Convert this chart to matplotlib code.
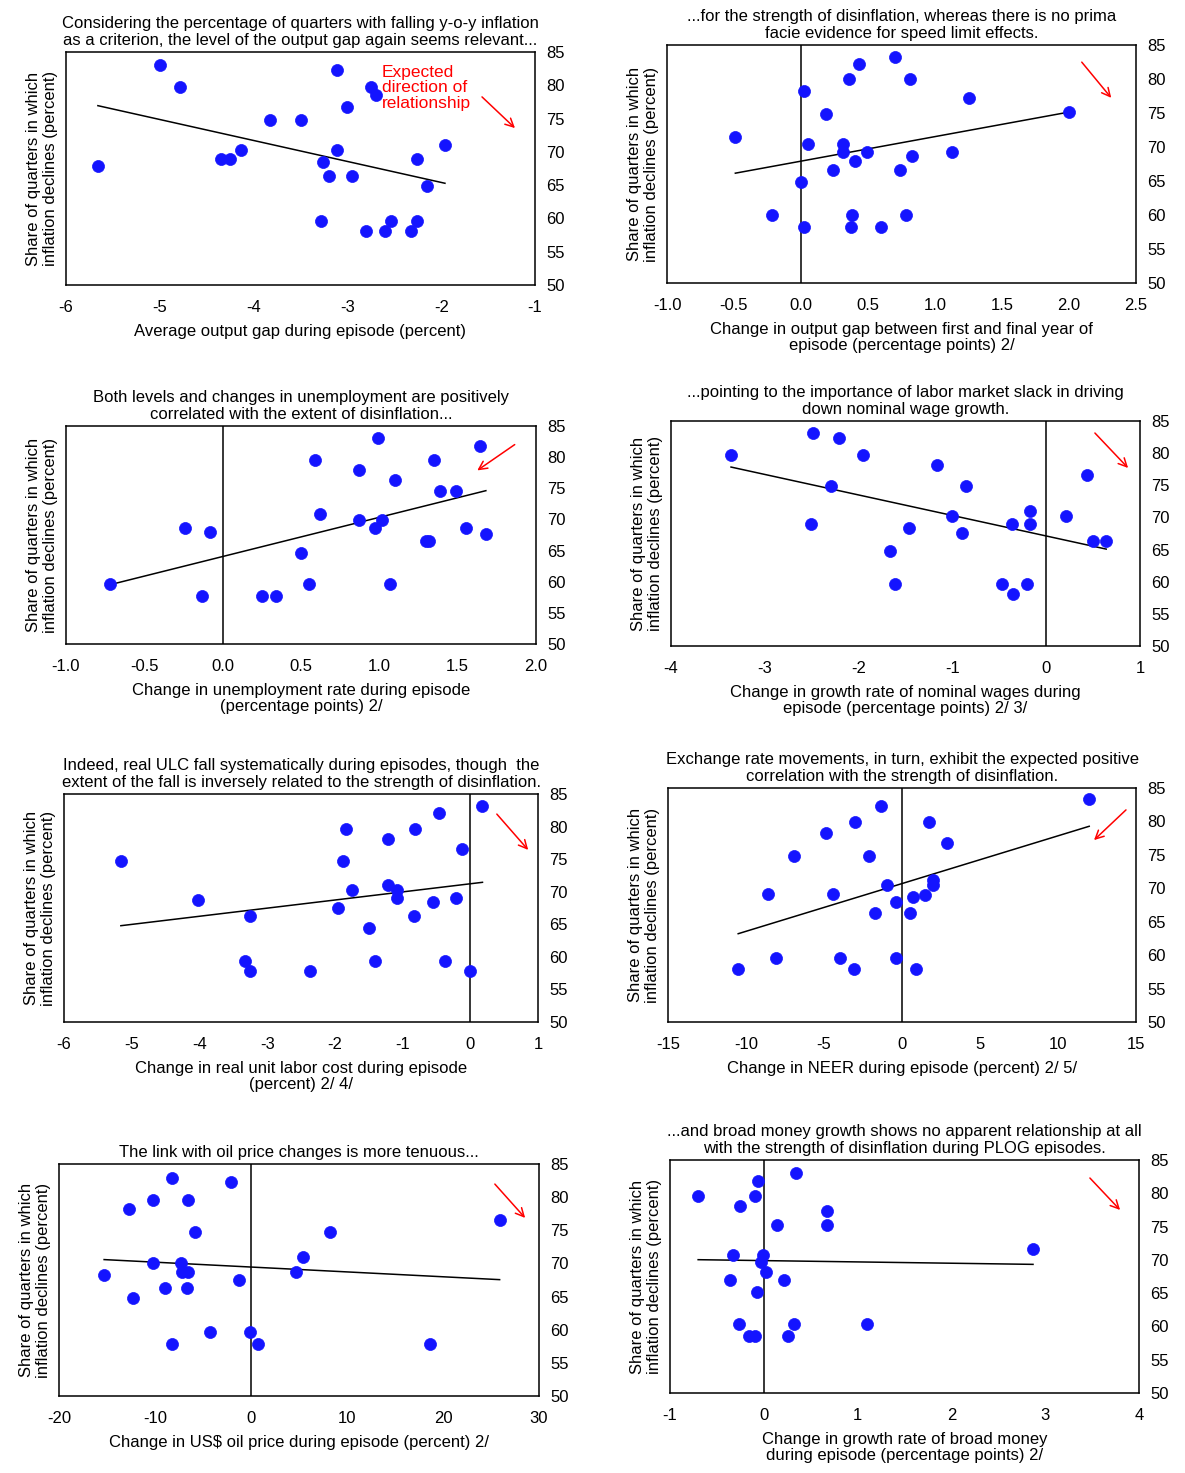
import numpy as np
import matplotlib
matplotlib.use("Agg")
import matplotlib.pyplot as plt

plt.rcParams['font.family'] = ['Liberation Sans', 'DejaVu Sans']

W, H = 1185, 1473

# panel 1: average output gap
gap_x = [-5.0, -4.78, -5.66, -4.35, -4.25, -4.13, -3.83, -3.49, -3.11, -3.11, -3.0, -3.26, -3.2, -2.95,
         -3.28, -2.8, -2.75, -2.7, -2.6, -2.54, -2.32, -2.26, -2.26, -2.15, -1.96]
gap_y = [83, 79.7, 67.9, 68.9, 68.9, 70.3, 74.8, 74.8, 82.3, 70.3, 76.8, 68.5, 66.4, 66.4,
         59.6, 58.1, 79.7, 78.5, 58.1, 59.6, 58.1, 59.6, 69.0, 64.9, 71.0]
# panel 2: change in output gap
dgap_x = [-0.49, -0.22, 0.02, 0.05, 0.0, 0.02, 0.19, 0.24, 0.31, 0.31, 0.36, 0.38, 0.37, 0.4, 0.43,
          0.49, 0.6, 0.7, 0.74, 0.78, 0.81, 0.83, 1.13, 1.25, 2.0]
dgap_y = [71.4, 60, 78.3, 70.5, 64.9, 58.2, 74.9, 66.6, 70.4, 69.2, 80, 60, 58.2, 68, 82.2,
          69.2, 58.2, 83.2, 66.6, 60, 80, 68.7, 69.2, 77.2, 75.1]
# panel 3: change in unemployment
unemp_x = [-0.72, -0.24, -0.13, -0.08, 0.25, 0.34, 0.5, 0.55, 0.59, 0.62, 0.87, 0.87, 0.97, 0.99,
           1.02, 1.07, 1.1, 1.3, 1.32, 1.35, 1.39, 1.49, 1.55, 1.64, 1.68]
unemp_y = [59.6, 68.6, 57.7, 68.0, 57.7, 57.7, 64.6, 59.6, 79.5, 70.8, 77.9, 69.9, 68.6, 83.1,
           69.9, 59.6, 76.3, 66.6, 66.6, 79.5, 74.5, 74.5, 68.6, 81.8, 67.6]
# panel 4: change in nominal wage growth
wage_x = [-3.36, -2.49, -2.21, -1.95, -2.51, -2.29, -1.66, -1.61, -1.46, -1.16, -1.0, -0.86, -0.9,
          -0.47, -0.35, -0.36, -0.21, -0.17, -0.17, 0.21, 0.44, 0.5, 0.64]
wage_y = [79.7, 83.1, 82.3, 79.7, 69.0, 74.9, 64.8, 59.6, 68.4, 78.2, 70.3, 74.9, 67.6,
          59.6, 58.1, 69.0, 59.6, 71.0, 69.0, 70.3, 76.6, 66.3, 66.3]
# panel 5: change in real ULC
ulc_x = [-5.16, -4.02, -3.25, -3.32, -3.25, -2.36, -1.96, -1.83, -1.88, -1.74, -1.5, -1.4, -1.21,
         -1.21, -1.08, -1.08, -0.83, -0.81, -0.55, -0.46, -0.37, -0.21, -0.12, 0.0, 0.18]
ulc_y = [74.7, 68.7, 66.3, 59.4, 57.8, 57.8, 67.5, 79.6, 74.7, 70.3, 64.4, 59.4, 78.1,
         71.0, 70.3, 69.0, 66.3, 79.6, 68.4, 82.1, 59.4, 69.0, 76.5, 57.8, 83.2]
# panel 6: change in NEER
neer_x = [-10.5, -8.6, -8.1, -6.9, -4.9, -4.4, -4.0, -3.1, -3.0, -2.1, -1.7, -1.35, -0.96, -0.38,
          -0.38, 0.5, 0.7, 0.9, 1.5, 2.0, 2.0, 1.7, 2.9, 12.0]
neer_y = [57.9, 69.1, 59.5, 74.8, 78.3, 69.1, 59.5, 57.9, 79.9, 74.8, 66.3, 82.3, 70.5, 59.5,
          68.0, 66.3, 68.7, 57.9, 69.0, 70.5, 71.2, 79.9, 76.8, 83.4]
# panel 7: change in oil price
oil_x = [-15.3, -12.7, -12.3, -10.2, -10.2, -8.96, -8.2, -8.2, -7.3, -7.2, -6.6, -6.6, -6.7, -5.8,
         -4.3, -2.1, -1.25, -0.1, 0.7, 4.7, 5.4, 8.2, 18.6, 25.9]
oil_y = [68.3, 78.2, 64.8, 79.6, 70.1, 66.3, 82.9, 57.9, 70.1, 68.7, 68.7, 79.6, 66.3, 74.7,
         59.7, 82.3, 67.5, 59.7, 57.9, 68.7, 70.9, 74.7, 57.9, 76.6]
# panel 8: change in broad money growth
money_x = [-0.7, -0.25, -0.09, -0.06, 0.34, -0.33, -0.36, -0.26, -0.16, -0.09, -0.07, -0.03, -0.01,
           0.02, 0.14, 0.22, 0.26, 0.32, 0.67, 0.67, 1.1, 2.87]
money_y = [79.6, 78.1, 79.6, 81.8, 83.0, 70.8, 67.0, 60.3, 58.5, 58.5, 65.2, 69.7, 70.8,
           68.2, 75.2, 67.0, 58.5, 60.3, 77.4, 75.2, 60.3, 71.7]

ylab = "Share of quarters in which\ninflation declines (percent)"

panels = [
    dict(x=gap_x, y=gap_y, box=(66, 52, 535, 285), xlim=(-6, -1), xt=[-6, -5, -4, -3, -2, -1], fmt="{:g}",
         title="Considering the percentage of quarters with falling y-o-y inflation\nas a criterion, the level of the output gap again seems relevant...",
         xlabel="Average output gap during episode (percent)", arrow=((480, 95), (517, 130))),
    dict(x=dgap_x, y=dgap_y, box=(667, 45, 1136, 283), xlim=(-1, 2.5), xt=[-1, -0.5, 0, 0.5, 1, 1.5, 2, 2.5], fmt="{:.1f}",
         title="...for the strength of disinflation, whereas there is no prima\nfacie evidence for speed limit effects.",
         xlabel="Change in output gap between first and final year of\nepisode (percentage points) 2/", arrow=((1080, 60), (1113, 100))),
    dict(x=unemp_x, y=unemp_y, box=(66, 426, 536, 644), xlim=(-1, 2), xt=[-1, -0.5, 0, 0.5, 1, 1.5, 2], fmt="{:.1f}",
         title="Both levels and changes in unemployment are positively\ncorrelated with the extent of disinflation...",
         xlabel="Change in unemployment rate during episode\n(percentage points) 2/", arrow=((517, 443), (475, 472))),
    dict(x=wage_x, y=wage_y, box=(671, 421, 1140, 646), xlim=(-4, 1), xt=[-4, -3, -2, -1, 0, 1], fmt="{:g}",
         title="...pointing to the importance of labor market slack in driving\ndown nominal wage growth.",
         xlabel="Change in growth rate of nominal wages during\nepisode (percentage points) 2/ 3/", arrow=((1093, 431), (1130, 470))),
    dict(x=ulc_x, y=ulc_y, box=(64, 794, 538, 1022), xlim=(-6, 1), xt=[-6, -5, -4, -3, -2, -1, 0, 1], fmt="{:g}",
         title="Indeed, real ULC fall systematically during episodes, though  the\nextent of the fall is inversely related to the strength of disinflation.",
         xlabel="Change in real unit labor cost during episode\n(percent) 2/ 4/", arrow=((495, 812), (530, 852))),
    dict(x=neer_x, y=neer_y, box=(668, 788, 1136, 1022), xlim=(-15, 15), xt=[-15, -10, -5, 0, 5, 10, 15], fmt="{:g}",
         title="Exchange rate movements, in turn, exhibit the expected positive\ncorrelation with the strength of disinflation.",
         xlabel="Change in NEER during episode (percent) 2/ 5/", arrow=((1128, 808), (1092, 842))),
    dict(x=oil_x, y=oil_y, box=(59, 1164, 539, 1396), xlim=(-20, 30), xt=[-20, -10, 0, 10, 20, 30], fmt="{:g}",
         title="The link with oil price changes is more tenuous...",
         xlabel="Change in US$ oil price during episode (percent) 2/", arrow=((493, 1182), (527, 1220))),
    dict(x=money_x, y=money_y, box=(670, 1160, 1139, 1393), xlim=(-1, 4), xt=[-1, 0, 1, 2, 3, 4], fmt="{:g}",
         title="...and broad money growth shows no apparent relationship at all\nwith the strength of disinflation during PLOG episodes.",
         xlabel="Change in growth rate of broad money\nduring episode (percentage points) 2/", arrow=((1088, 1176), (1122, 1212))),
]

fig = plt.figure(figsize=(W / 100, H / 100), dpi=100)

for p in panels:
    l, t, r, b = p["box"]
    ax = fig.add_axes([l / W, 1 - b / H, (r - l) / W, (b - t) / H])
    x = np.array(p["x"])
    y = np.array(p["y"])
    ax.scatter(x, y, s=75, color="#1414ff", edgecolors="#1414ff", linewidths=0.5, zorder=3)
    k, c = np.polyfit(x, y, 1)
    xs = np.array([x.min(), x.max()])
    ax.plot(xs, k * xs + c, color="black", lw=1.1, zorder=2)
    if p["xlim"][0] < 0 < p["xlim"][1]:
        ax.axvline(0, color="black", lw=1.1)
    ax.set_xlim(*p["xlim"])
    ax.set_ylim(50, 85)
    ax.set_xticks(p["xt"])
    ax.set_xticklabels([p["fmt"].format(v) for v in p["xt"]])
    ax.set_yticks(range(50, 90, 5))
    ax.yaxis.tick_right()
    ax.tick_params(axis="x", length=0, labelsize=12, pad=11)
    ax.tick_params(axis="y", length=0, labelsize=12, pad=8)
    ax.set_ylabel(ylab, fontsize=12, labelpad=6, linespacing=1.1)
    ax.yaxis.set_label_position("left")
    ax.set_xlabel(p["xlabel"], fontsize=12, labelpad=6, linespacing=1.1)
    ax.set_title(p["title"], fontsize=12, pad=5, linespacing=1.15)
    for s in ax.spines.values():
        s.set_linewidth(1.1)
    (x0, y0), (x1, y1) = p["arrow"]
    fig.patches.append(matplotlib.patches.FancyArrowPatch(
        (x0 / W, 1 - y0 / H), (x1 / W, 1 - y1 / H), transform=fig.transFigure,
        arrowstyle="->,head_length=6,head_width=3", color="red", lw=1.1))

fig.text(382 / W, 1 - 88 / H, "Expected\ndirection of\nrelationship", color="red", fontsize=12.5,
         ha="left", va="center", linespacing=1.05)

fig.savefig("out.png", dpi=100)
